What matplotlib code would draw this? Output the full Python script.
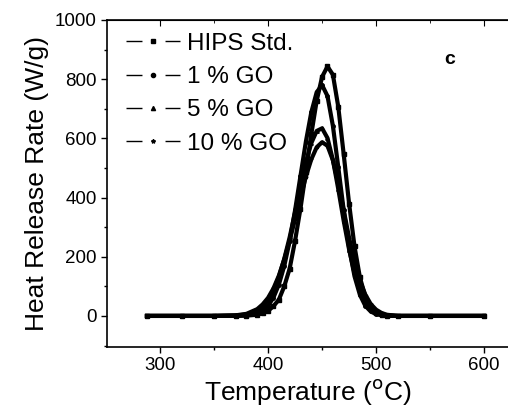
#!/usr/bin/env python3
"""Heat release rate vs temperature for HIPS / GO composites (panel c)."""

import numpy as np
import matplotlib.pyplot as plt
from matplotlib.ticker import MultipleLocator

plt.rcParams['font.family'] = ['Liberation Sans', 'DejaVu Sans']

temp = [288, 320, 350, 370, 380, 390, 395, 400, 405, 410, 415, 420, 425, 430,
        435, 440, 445, 450, 455, 460, 465, 470, 475, 480, 485, 490, 495, 500,
        505, 510, 520, 550, 600]

hips = [0, 0, 0, 0, 1, 4, 9, 17, 33, 55, 100, 160, 254, 363,
        487, 614, 727, 808, 843, 815, 706, 546, 379, 235, 130, 65, 29, 11,
        4, 1, 0, 0, 0]
go1 = [0, 0, 0, 1, 2, 9, 18, 34, 62, 106, 169, 253, 357, 473,
       589, 688, 756, 780, 743, 642, 502, 357, 230, 134, 71, 34, 15, 6,
       2, 0, 0, 0, 0]
go5 = [0, 0, 0, 1, 5, 17, 31, 53, 86, 132, 193, 266, 350, 437,
       519, 584, 625, 634, 601, 527, 428, 321, 224, 144, 86, 48, 24, 11,
       5, 2, 0, 0, 0]
go10 = [0, 0, 0, 2, 7, 23, 39, 61, 93, 136, 191, 255, 327, 401,
        471, 529, 570, 587, 575, 526, 448, 357, 264, 183, 118, 72, 40, 21,
        10, 4, 0, 0, 0]

labels = ['HIPS Std.', '1 % GO', '5 % GO', '10 % GO']
markers = ['s', 'o', '^', '*']

fig = plt.figure(figsize=(5.08, 4.13), dpi=100)
ax = fig.add_axes([107 / 508, 66 / 413, 401 / 508, 327 / 413])

for y, lab, mk in zip([hips, go1, go5, go10], labels, markers):
    ax.plot(temp, y, '-', color='k', lw=3.0, marker=mk, ms=2.5,
            label=lab)

ax.set_xlim(251, 622)
ax.set_ylim(-105, 1000)
ax.xaxis.set_major_locator(MultipleLocator(100))
ax.xaxis.set_minor_locator(MultipleLocator(50))
ax.yaxis.set_major_locator(MultipleLocator(200))
ax.yaxis.set_minor_locator(MultipleLocator(100))
ax.tick_params(which='both', direction='out', top=False, right=False,
               labelsize=13.5, width=1)
ax.tick_params(which='major', length=4)
ax.tick_params(which='minor', length=2.5)
ax.spines['right'].set_visible(False)
for s in ['left', 'bottom', 'top']:
    ax.spines[s].set_linewidth(1.2)

# inward ticks on the top edge
sec = ax.secondary_xaxis('top')
sec.xaxis.set_major_locator(MultipleLocator(100))
sec.xaxis.set_minor_locator(MultipleLocator(50))
sec.tick_params(which='both', direction='in', labeltop=False)
sec.tick_params(which='major', length=4)
sec.tick_params(which='minor', length=2.5)

ax.set_xlabel('Temperature ($^{\\rm o}$C)', fontsize=19, labelpad=2)
ax.set_ylabel('Heat Release Rate (W/g)', fontsize=19, labelpad=4)

leg = ax.legend(loc='upper left', bbox_to_anchor=(0.0, 1.02), frameon=False,
                fontsize=17.5, handlelength=2.2, handletextpad=0.3,
                labelspacing=0.46, borderaxespad=0.4)
for h in leg.legend_handles:
    h.set_linewidth(1.0)
    h.set_markersize(3)
    h.set_dashes([11.5, 16.6, 11.5])

ax.text(568, 865, 'c', fontsize=14, fontweight='bold', ha='center', va='center')

fig.savefig('out.png', dpi=100)
